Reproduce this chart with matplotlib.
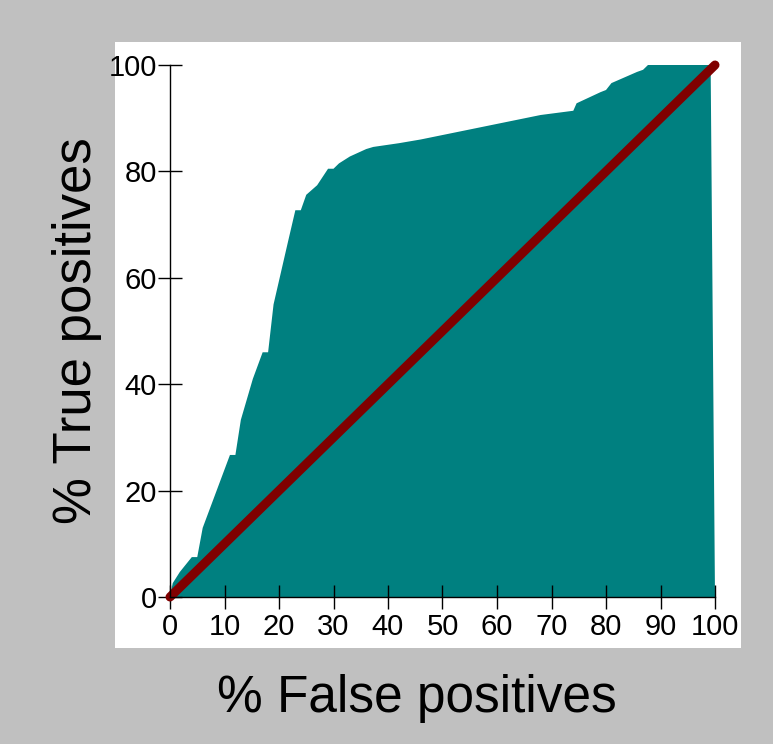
import matplotlib
matplotlib.use("Agg")
import matplotlib.pyplot as plt
from matplotlib.patches import Rectangle

plt.rcParams['font.family'] = ['Liberation Sans', 'DejaVu Sans']

# ROC curve (% false positives, % true positives)
fp = [0, 0.5, 1.8, 4, 5, 6, 11, 12, 13, 15.2, 17, 18, 19, 21.7, 23, 24, 25, 27,
      29, 30, 31, 33, 36, 37.3, 42, 46, 68, 74, 74.6, 79, 80, 81, 85.7, 86.8,
      87.7, 99.2, 100]
tp = [0, 2.6, 4.7, 7.5, 7.5, 13, 26.7, 26.7, 33.3, 41, 46, 46, 55, 67, 72.7,
      72.7, 75.6, 77.4, 80.5, 80.5, 81.5, 82.8, 84.2, 84.6, 85.3, 86, 90.6,
      91.4, 92.8, 94.9, 95.3, 96.6, 98.7, 99.1, 100, 100, 0]
ticks = [0, 10, 20, 30, 40, 50, 60, 70, 80, 90, 100]
yticks = [0, 20, 40, 60, 80, 100]

fig = plt.figure(figsize=(7.73, 7.44), dpi=100)
fig.patch.set_facecolor("#c0c0c0")
fig.patches.append(Rectangle((115 / 773, 1 - 648 / 744), 626 / 773, 606 / 744,
                             transform=fig.transFigure, facecolor="white",
                             edgecolor="none", zorder=-5))

ax = fig.add_axes([170 / 773, 1 - 597 / 744, 545 / 773, 532 / 744])
ax.patch.set_alpha(0)

ax.fill(fp + [0], tp + [0], color="#008080", linewidth=0, zorder=1)
ax.plot([0, 100], [0, 100], color="#800000", linewidth=6.5,
        solid_capstyle="round", clip_on=False, zorder=3)

ax.set_xlim(0, 100)
ax.set_ylim(0, 100)
ax.set_xticks(ticks)
ax.set_yticks(yticks)
ax.spines["top"].set_visible(False)
ax.spines["right"].set_visible(False)
for s in ["left", "bottom"]:
    ax.spines[s].set_linewidth(1.0)
    ax.spines[s].set_zorder(4)
ax.tick_params(axis="both", direction="inout", length=17, width=1.0,
               labelsize=21, colors="black")
ax.tick_params(axis="y", pad=1)
ax.tick_params(axis="x", pad=3)

fig.text(417 / 773, 1 - 712 / 744, "% False positives", fontsize=37,
         ha="center", va="baseline")
fig.text(77 / 773, 1 - 331 / 744, "% True positives", fontsize=38,
         ha="center", va="center", rotation=90)

fig.savefig("out.png", dpi=100, facecolor=fig.get_facecolor())
